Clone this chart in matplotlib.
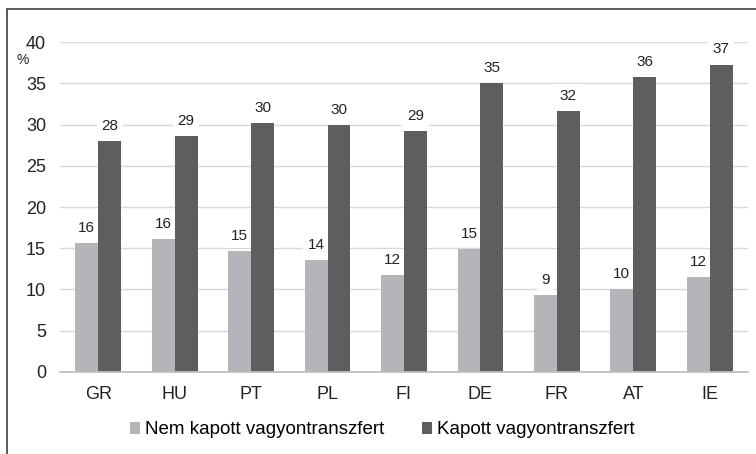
import numpy as np
import matplotlib.pyplot as plt
from matplotlib.patches import Rectangle

plt.rcParams['font.family'] = ['Liberation Sans', 'DejaVu Sans']

# data
countries = ['GR', 'HU', 'PT', 'PL', 'FI', 'DE', 'FR', 'AT', 'IE']
no_transfer = [15.6, 16.1, 14.6, 13.6, 11.7, 14.9, 9.35, 10.0, 11.5]
transfer = [28.05, 28.6, 30.2, 29.9, 29.2, 35.1, 31.7, 35.8, 37.3]
series_names = ['Nem kapott vagyontranszfert', 'Kapott vagyontranszfert']
light = '#b4b5b8'
dark = '#5e5e61'

fig = plt.figure(figsize=(7.56, 4.54), dpi=100)
ax = fig.add_axes([60/756, 1-371.7/454, 688/756, 329.4/454])
ax.set_axisbelow(True)

x = np.arange(len(countries))
w = 0.3
b1 = ax.bar(x - w/2, no_transfer, w, color=light, label=series_names[0], zorder=2)
b2 = ax.bar(x + w/2, transfer, w, color=dark, label=series_names[1], zorder=2)

# value labels with white box (box hides the gridline, not the bars)
for bars, vals in ((b1, no_transfer), (b2, transfer)):
    for r, v in zip(bars, vals):
        ax.annotate(f'{v:.0f}', (r.get_x() + r.get_width()/2, v),
                    xytext=(0, 8), textcoords='offset points',
                    ha='center', va='baseline', fontsize=11, color='#222222',
                    bbox=dict(boxstyle='square,pad=0.3', fc='white', ec='none'),
                    zorder=1.8)

ax.set_xlim(-0.5, len(countries) - 0.5)
ax.set_ylim(0, 40)
ax.set_yticks(range(0, 41, 5))
ax.set_xticks(x)
ax.set_xticklabels(countries)
ax.tick_params(axis='both', length=0, labelsize=13, colors='#222222')
ax.tick_params(axis='y', pad=10)
ax.tick_params(axis='x', pad=10)
ax.grid(axis='y', color='#d9d9d9', lw=1)
for s in ['top', 'right', 'left']:
    ax.spines[s].set_visible(False)
ax.spines['bottom'].set_color('#bfbfbf')
ax.spines['bottom'].set_linewidth(1.3)
ax.spines['bottom'].set_zorder(3)

fig.text(22.7/756, 1-60/454, '%', ha='center', va='center', fontsize=10, color='#222222')

fig.legend(loc='center', bbox_to_anchor=(382/756, 1-430/454), ncol=2, frameon=False,
           fontsize=13.5, handlelength=0.55, handleheight=0.55, handletextpad=0.25,
           columnspacing=2.0)

# outer frame (only left and top edges show in the crop)
fig.patches.append(Rectangle((7/756, -0.1), 1.2, 1.1 - 9/454, transform=fig.transFigure,
                             fill=False, ec='#404040', lw=1.2))

fig.savefig('out.png', dpi=100)
